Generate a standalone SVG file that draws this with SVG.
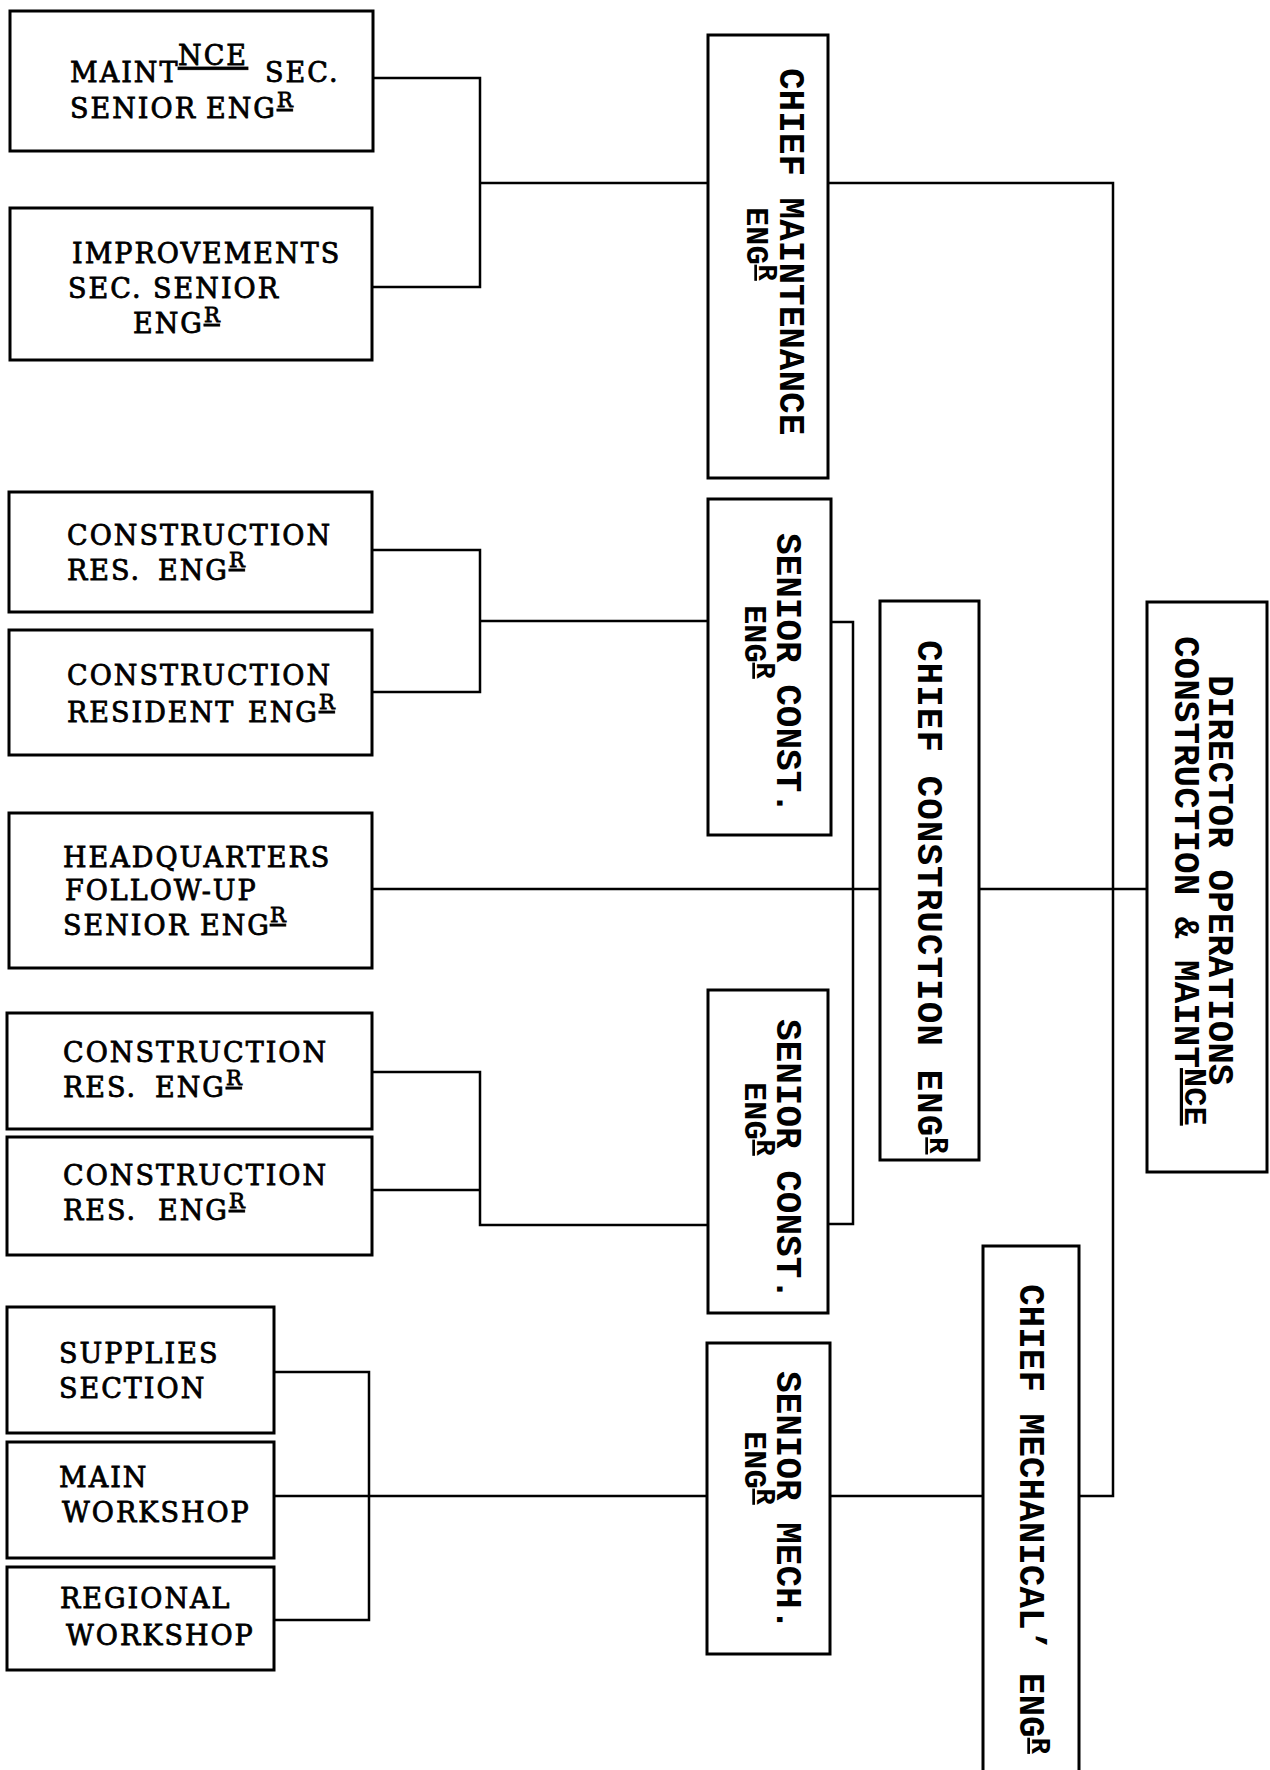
<svg xmlns="http://www.w3.org/2000/svg" width="1270" height="1770" viewBox="0 0 1270 1770">
<style>
.box{fill:none;stroke:#000;stroke-width:3}
.conn{fill:none;stroke:#000;stroke-width:2.5}
.t{font-family:"DejaVu Serif","Liberation Serif",serif;font-size:27px;letter-spacing:2px;fill:#000;stroke:#000;stroke-width:0.8}
.s{font-size:21px;letter-spacing:0}
.u{text-decoration:underline}
.v{font-family:"Liberation Mono","DejaVu Sans Mono",monospace;font-size:36px;font-weight:bold;fill:#000}
.v2{font-family:"Liberation Mono","DejaVu Sans Mono",monospace;font-size:32px;font-weight:bold;fill:#000}
.vs{font-size:27px}
</style>
<rect width="1270" height="1770" fill="#fff"/>
<g id="connectors">
<path class="conn" d="M373,78 H480 V287 H373 M480,183 H708"/>
<path class="conn" d="M828,183 H1113 V1496 H1079"/>
<path class="conn" d="M372,550 H480 V692 H372 M480,621 H708"/>
<path class="conn" d="M831,622 H853 V1224 H828"/>
<path class="conn" d="M372,889 H880 M979,889 H1147"/>
<path class="conn" d="M372,1072 H480 V1225 H708 M372,1190 H480"/>
<path class="conn" d="M274,1372 H369 V1620 H274 M274,1496 H707"/>
<path class="conn" d="M830,1496 H983"/>
</g>
<g id="maint-sec">
<rect class="box" x="10" y="11" width="363" height="140"/>
<text class="t" x="70" y="82">MAINT<tspan class="u" x="178" y="65">NCE</tspan><tspan x="265" y="82">SEC.</tspan></text>
<text class="t" x="70" y="118">SENIOR<tspan x="206">ENG</tspan><tspan class="s u" y="107">R</tspan></text>
</g>
<g id="improvements">
<rect class="box" x="10" y="208" width="362" height="152"/>
<text class="t" x="72" y="263">IMPROVEMENTS</text>
<text class="t" x="68" y="298">SEC. SENIOR</text>
<text class="t" x="133" y="333">ENG<tspan class="s u" y="322">R</tspan></text>
</g>
<g id="const-res-1">
<rect class="box" x="9" y="492" width="363" height="120"/>
<text class="t" x="67" y="545">CONSTRUCTION</text>
<text class="t" x="67" y="580">RES.<tspan x="158">ENG</tspan><tspan class="s u" y="567">R</tspan></text>
</g>
<g id="const-res-2">
<rect class="box" x="9" y="630" width="363" height="125"/>
<text class="t" x="67" y="685">CONSTRUCTION</text>
<text class="t" x="67" y="722">RESIDENT<tspan x="248">ENG</tspan><tspan class="s u" y="709">R</tspan></text>
</g>
<g id="hq-follow-up">
<rect class="box" x="9" y="813" width="363" height="155"/>
<text class="t" x="63" y="867">HEADQUARTERS</text>
<text class="t" x="65" y="900">FOLLOW-UP</text>
<text class="t" x="63" y="935">SENIOR<tspan x="200">ENG</tspan><tspan class="s u" x="270" y="922">R</tspan></text>
</g>
<g id="const-res-3">
<rect class="box" x="7" y="1013" width="365" height="116"/>
<text class="t" x="63" y="1062">CONSTRUCTION</text>
<text class="t" x="63" y="1097">RES.<tspan x="155">ENG</tspan><tspan class="s u" y="1085">R</tspan></text>
</g>
<g id="const-res-4">
<rect class="box" x="7" y="1137" width="365" height="118"/>
<text class="t" x="63" y="1185">CONSTRUCTION</text>
<text class="t" x="63" y="1220">RES.<tspan x="158">ENG</tspan><tspan class="s u" y="1208">R</tspan></text>
</g>
<g id="supplies">
<rect class="box" x="7" y="1307" width="267" height="126"/>
<text class="t" x="59" y="1363">SUPPLIES</text>
<text class="t" x="59" y="1398">SECTION</text>
</g>
<g id="main-workshop">
<rect class="box" x="7" y="1442" width="267" height="116"/>
<text class="t" x="59" y="1487">MAIN</text>
<text class="t" x="62" y="1522">WORKSHOP</text>
</g>
<g id="regional-workshop">
<rect class="box" x="7" y="1567" width="267" height="103"/>
<text class="t" x="60" y="1608">REGIONAL</text>
<text class="t" x="66" y="1645">WORKSHOP</text>
</g>
<g id="chief-maintenance">
<rect class="box" x="708" y="35" width="120" height="443"/>
<g transform="translate(780,68) rotate(90)">
<text class="v" x="0" y="0">CHIEF MAINTENANCE</text>
<text class="v2" x="139" y="33">ENG<tspan class="vs u" dy="-12">R</tspan></text>
</g>
</g>
<g id="senior-const-1">
<rect class="box" x="708" y="499" width="123" height="336"/>
<g transform="translate(777,533) rotate(90)">
<text class="v" x="0" y="0">SENIOR CONST.</text>
<text class="v2" x="72" y="32">ENG<tspan class="vs u" dy="-12">R</tspan></text>
</g>
</g>
<g id="senior-const-2">
<rect class="box" x="708" y="990" width="120" height="323"/>
<g transform="translate(777,1019) rotate(90)">
<text class="v" x="0" y="0">SENIOR CONST.</text>
<text class="v2" x="63" y="32">ENG<tspan class="vs u" dy="-12">R</tspan></text>
</g>
</g>
<g id="senior-mech">
<rect class="box" x="707" y="1343" width="123" height="311"/>
<g transform="translate(777,1371) rotate(90)">
<text class="v" x="0" y="0">SENIOR MECH.</text>
<text class="v2" x="60" y="32">ENG<tspan class="vs u" dy="-12">R</tspan></text>
</g>
</g>
<g id="chief-construction">
<rect class="box" x="880" y="601" width="99" height="559"/>
<g transform="translate(918,640) rotate(90)">
<text class="v" x="0" y="0" letter-spacing="1">CHIEF CONSTRUCTION ENG<tspan class="vs u" dy="-12">R</tspan></text>
</g>
</g>
<g id="chief-mechanical">
<rect class="box" x="983" y="1246" width="96" height="540"/>
<g transform="translate(1020,1284) rotate(90)">
<text class="v" x="0" y="0">CHIEF MECHANICAL’ ENG<tspan class="vs u" dy="-12">R</tspan></text>
</g>
</g>
<g id="director">
<rect class="box" x="1147" y="602" width="120" height="570"/>
<g transform="translate(1209,675) rotate(90)">
<text class="v" x="0" y="0">DIRECTOR OPERATIONS</text>
<text class="v" x="-39" y="34">CONSTRUCTION &amp; MAINT<tspan class="v2 u" dy="-10">NCE</tspan></text>
</g>
</g>
</svg>
